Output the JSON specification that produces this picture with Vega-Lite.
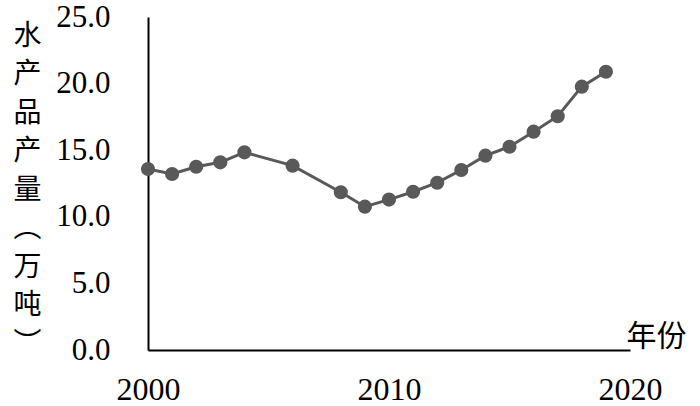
{
  "$schema": "https://vega.github.io/schema/vega-lite/v6.json",
  "autosize": {"type": "none"},
  "width": 482,
  "height": 333,
  "padding": {"left": 148, "top": 17, "right": 70, "bottom": 56},
  "background": "white",
  "config": {"view": {"stroke": null}},
  "data": {
    "values": [
      {"year": 2000, "value": 13.59},
      {"year": 2001, "value": 13.21},
      {"year": 2002, "value": 13.76},
      {"year": 2003, "value": 14.09},
      {"year": 2004, "value": 14.84},
      {"year": 2006, "value": 13.84},
      {"year": 2008, "value": 11.84},
      {"year": 2009, "value": 10.76},
      {"year": 2010, "value": 11.29},
      {"year": 2011, "value": 11.88},
      {"year": 2012, "value": 12.56},
      {"year": 2013, "value": 13.51},
      {"year": 2014, "value": 14.59},
      {"year": 2015, "value": 15.26},
      {"year": 2016, "value": 16.39},
      {"year": 2017, "value": 17.55},
      {"year": 2018, "value": 19.77},
      {"year": 2019, "value": 20.89}
    ]
  },
  "mark": {
    "type": "line",
    "color": "#595959",
    "strokeWidth": 3,
    "point": {"filled": true, "size": 200, "color": "#595959", "opacity": 1}
  },
  "encoding": {
    "x": {
      "field": "year",
      "type": "quantitative",
      "scale": {"domain": [2000, 2020], "zero": false, "nice": false},
      "axis": {
        "values": [2000, 2010, 2020],
        "format": "d",
        "grid": false,
        "ticks": false,
        "domainColor": "black",
        "domainWidth": 2,
        "labelFont": "Liberation Serif",
        "labelFontSize": 32,
        "labelColor": "black",
        "labelPadding": 24,
        "labelFlush": false,
        "title": "年份",
        "titleFont": "Noto Sans CJK SC",
        "titleFontSize": 30,
        "titleFontWeight": "normal",
        "titleColor": "black",
        "titleAnchor": null,
        "titleAlign": "left",
        "titleBaseline": "bottom",
        "titleX": 478,
        "titleY": 1
      }
    },
    "y": {
      "field": "value",
      "type": "quantitative",
      "scale": {"domain": [0, 25], "nice": false},
      "axis": {
        "values": [0, 5, 10, 15, 20, 25],
        "format": ".1f",
        "grid": false,
        "ticks": false,
        "domainColor": "black",
        "domainWidth": 2,
        "labelFont": "Liberation Serif",
        "labelFontSize": 31,
        "labelColor": "black",
        "labelPadding": 38,
        "labelFlush": false,
        "title": ["水", "产", "品", "产", "量", "︵", "万", "吨", "︶"],
        "titleFont": "Noto Sans CJK SC",
        "titleFontSize": 28,
        "titleFontWeight": "normal",
        "titleColor": "black",
        "titleAngle": 0,
        "titleAnchor": null,
        "titleAlign": "center",
        "titleBaseline": "top",
        "titleLineHeight": 38.5,
        "titleX": -121,
        "titleY": 5
      }
    }
  }
}
